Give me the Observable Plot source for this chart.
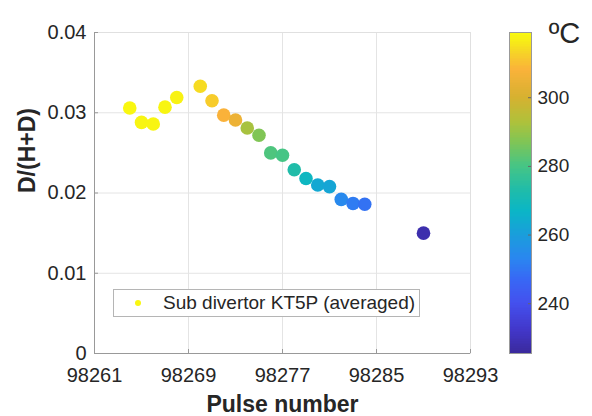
<!DOCTYPE html>
<html><head><meta charset="utf-8">
<script src="https://cdn.jsdelivr.net/npm/d3@7"></script>
<script src="https://cdn.jsdelivr.net/npm/@observablehq/plot@0.6"></script>
<style>
body{margin:0;background:#fff;}
#wrap{position:relative;width:592px;height:416px;font-family:"Liberation Sans",Arial,sans-serif;}
#wrap svg{position:absolute;top:0;}
#legend{position:absolute;left:113px;top:289px;width:307px;height:28px;border:1px solid #b5b5b5;background:#fff;box-sizing:border-box;color:#262626;}
#legend .dot{position:absolute;left:21px;top:10px;width:6px;height:6px;border-radius:50%;}
#legend .lbl{position:absolute;left:49px;top:0;line-height:26px;font-size:19px;white-space:nowrap;}
</style></head><body><div id="wrap"></div>
<script>
// data
const pulses = [98264,98265,98266,98267,98268,98270,98271,98272,98273,98274,98275,98276,98277,98278,98279,98280,98281,98282,98283,98284,98289];
const ratio  = [0.0306,0.0288,0.0286,0.0307,0.0319,0.0333,0.0315,0.0297,0.0291,0.0281,0.0272,0.0250,0.0247,0.0229,0.0218,0.0210,0.0208,0.0192,0.0187,0.0186,0.0150];
const temps  = [318.5,318,318,318,317.5,314,312,308,305,292,287,281,280,273,268,263,262,254,251,249,228];
const xTicks = [98261,98269,98277,98285,98293];
const yTicks = [0,0.01,0.02,0.03,0.04];
const cbTicks = [240,260,280,300];
const tempDomain = [225.5,319];
const cmapTemps  = [225.5,232,240,247,253,260,267,273,280,287,293,300,308,313,316,319];
const cmapColors = ["#3a2a9c","#4236c8","#4450ee","#3868f5","#2a86f0","#1a9edb","#0ab6c6","#20bca9","#46c585","#80c555","#b0c13a","#d6b130","#fab23a","#f6d327","#f7ea18","#f9fa0e"];
const xLabel = "Pulse number";
const yLabel = "D/(H+D)";
const legendLabel = "Sub divertor KT5P (averaged)";
const unitLabel = "ºC";

const data = pulses.map((p,i)=>({pulse:p, ratio:ratio[i], temp:temps[i]}));
const colorOpts = {type:"linear", domain:cmapTemps, range:cmapColors, interpolate:"rgb"};
const font = "Liberation Sans, Arial, sans-serif";

const main = Plot.plot({
  width:592, height:416,
  marginLeft:94, marginRight:122, marginTop:32, marginBottom:63,
  style:{fontFamily:font, color:"#262626", background:"transparent", overflow:"visible"},
  x:{domain:[xTicks[0], xTicks[xTicks.length-1]]},
  y:{domain:[yTicks[0], yTicks[yTicks.length-1]]},
  color:colorOpts,
  marks:[
    Plot.gridX(xTicks, {stroke:"#e4e4e4", strokeOpacity:1}),
    Plot.gridY(yTicks, {stroke:"#e4e4e4", strokeOpacity:1}),
    Plot.frame({stroke:"#e0e0e0"}),
    Plot.ruleX([xTicks[0]], {stroke:"#999"}),
    Plot.ruleY([yTicks[0]], {stroke:"#999"}),
    Plot.tickY(yTicks, {y:d=>d, stroke:"#999", insetRight:372}),
    Plot.tickX(xTicks, {x:d=>d, stroke:"#999", insetTop:317}),
    Plot.axisX(xTicks, {tickSize:0, tickPadding:14, fontSize:20, label:null, tickFormat:d=>String(d)}),
    Plot.axisY(yTicks, {tickSize:0, tickPadding:8, fontSize:20, label:null, tickFormat:d=>String(d)}),
    Plot.dot(data, {x:"pulse", y:"ratio", fill:"temp", r:6.8}),
    Plot.text([xLabel], {frameAnchor:"bottom", dy:58, lineAnchor:"bottom", fontSize:23, fontWeight:"bold"}),
    Plot.text([yLabel], {frameAnchor:"left", dx:-67, rotate:-90, fontSize:23, fontWeight:"bold"})
  ]
});

const cbData = d3.range(tempDomain[0], tempDomain[1], 0.5);
const cb = Plot.plot({
  width:92, height:416,
  marginLeft:9, marginRight:61, marginTop:32, marginBottom:63,
  style:{fontFamily:font, color:"#262626", background:"transparent", overflow:"visible"},
  y:{domain:tempDomain},
  color:colorOpts,
  marks:[
    Plot.rect(cbData, {y1:d=>d, y2:d=>Math.min(d+0.55, tempDomain[1]), fill:d=>d+0.25, shapeRendering:"crispEdges"}),
    Plot.frame({stroke:"#999"}),
    Plot.tickY(cbTicks, {y:d=>d, stroke:"#666", insetLeft:19}),
    Plot.axisY(cbTicks, {anchor:"right", tickSize:0, tickPadding:6, fontSize:19, label:null}),
    Plot.text([unitLabel], {frameAnchor:"top", dx:44, dy:10, lineAnchor:"bottom", fontSize:29})
  ]
});
cb.style.left = "500px";

const wrap = document.getElementById("wrap");
wrap.appendChild(main);
wrap.appendChild(cb);

const leg = document.createElement("div");
leg.id = "legend";
const dot = document.createElement("span");
dot.className = "dot";
dot.style.background = main.scale("color").apply(temps[0]);
const lbl = document.createElement("span");
lbl.className = "lbl";
lbl.textContent = legendLabel;
leg.appendChild(dot); leg.appendChild(lbl);
wrap.appendChild(leg);
</script>
</body></html>
